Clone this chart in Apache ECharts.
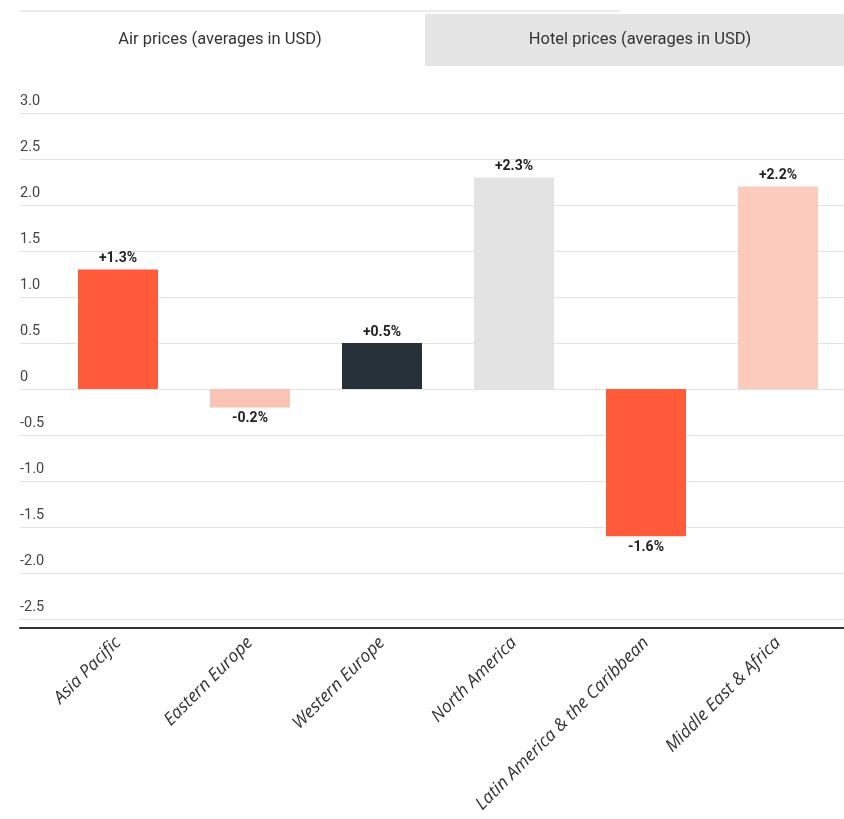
<!DOCTYPE html>
<html>
<head>
<meta charset="utf-8">
<script src="https://cdn.jsdelivr.net/npm/echarts@6/dist/echarts.min.js"></script>
<style>
html,body{margin:0;padding:0;background:#fff;}
#c{width:844px;height:819px;}
</style>
</head>
<body>
<div id="c"></div>
<script>
const categories = ['Asia Pacific','Eastern Europe','Western Europe','North America','Latin America & the Caribbean','Middle East & Africa'];
const values = [1.3, -0.2, 0.5, 2.3, -1.6, 2.2];
const barColors = ['#ff5b3a','#f9c4b4','#26313a','#e3e3e3','#ff5b3a','#fccbbd'];
const tabLabels = ['Air prices (averages in USD)','Hotel prices (averages in USD)'];
const yMin = -2.5, yMax = 3.0, yStep = 0.5;

const chart = echarts.init(document.getElementById('c'), null, {renderer:'canvas'});
const fmtLabel = v => (v > 0 ? '+' : '') + v.toFixed(1) + '%';
const fmtTick = v => Math.abs(v) < 1e-9 ? '0' : v.toFixed(1);

chart.setOption({
  animation: false,
  textStyle: {fontFamily: 'Roboto'},
  graphic: [
    {type:'rect', shape:{x:20,y:10,width:600,height:2}, style:{fill:'#ececec'}},
    {type:'rect', shape:{x:0,y:14,width:422,height:52}, style:{fill:'#ffffff'}},
    {type:'rect', shape:{x:425,y:14,width:419,height:52}, style:{fill:'#e5e5e5'}},
    {type:'text', x:220, y:40, style:{text:tabLabels[0], fill:'#333', font:'16.5px Roboto', align:'center', verticalAlign:'middle'}},
    {type:'text', x:640, y:40, style:{text:tabLabels[1], fill:'#333', font:'16.5px Roboto', align:'center', verticalAlign:'middle'}}
  ],
  grid: [
    {left:52, right:0, top:113, bottom:200},
    {left:20, width:32, top:113, bottom:200}
  ],
  xAxis: [
    {
      type:'category', data: categories, gridIndex:0, offset:9,
      axisLine:{show:true, onZero:false, lineStyle:{color:'#333', width:2}},
      axisTick:{show:false},
      axisLabel:{rotate:45, interval:0, color:'#333', fontSize:17.5, margin:12, fontStyle:'italic', fontFamily:'Open Sans'}
    },
    {
      type:'value', gridIndex:1, min:0, max:1, offset:9,
      axisLine:{show:true, onZero:false, lineStyle:{color:'#333', width:2}},
      axisTick:{show:false}, axisLabel:{show:false}, splitLine:{show:false}
    }
  ],
  yAxis: [
    {
      type:'value', gridIndex:0, min:yMin, max:yMax, interval:yStep,
      axisLine:{show:false}, axisTick:{show:false},
      splitLine:{lineStyle:{color:'#e2e2e2', width:1}},
      axisLabel:{formatter:fmtTick, color:'#444', fontSize:14.5, align:'left', margin:32, verticalAlign:'bottom', padding:[0,0,4,0]}
    },
    {
      type:'value', gridIndex:1, min:yMin, max:yMax, interval:yStep,
      axisLine:{show:false}, axisTick:{show:false}, axisLabel:{show:false},
      splitLine:{lineStyle:{color:'#e2e2e2', width:1}}
    }
  ],
  series: [{
    type:'bar', xAxisIndex:0, yAxisIndex:0, barWidth:80,
    data: values.map((v,i)=>({
      value:v,
      itemStyle:{color:barColors[i]},
      label:{position: v >= 0 ? 'top' : 'bottom'}
    })),
    label:{show:true, formatter:p=>fmtLabel(p.value), fontSize:14, fontWeight:'bold', color:'#222', distance:4}
  }]
});
</script>
</body>
</html>
